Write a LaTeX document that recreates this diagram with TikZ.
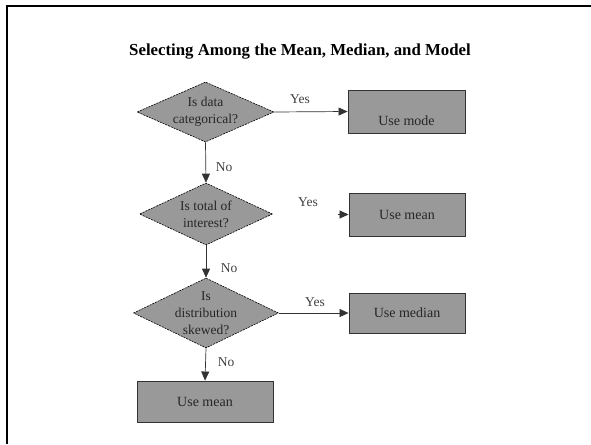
\documentclass[tikz,border=0pt]{standalone}
\usepackage{fontspec}
\setmainfont{Liberation Serif}
\usetikzlibrary{shapes.geometric,arrows.meta}
\definecolor{boxgray}{HTML}{999999}
\definecolor{edgegray}{HTML}{333333}
\begin{document}
\begin{tikzpicture}[x=1pt,y=-1pt,
  decision/.style={diamond, draw=black, line width=0.6pt, dash pattern=on 2pt off 1pt,
    fill=boxgray, inner sep=0pt},
  dtext/.style={align=center, inner sep=0pt, font=\fontsize{13.5}{17}\selectfont, text=black!85},
  outbox/.style={rectangle, draw=edgegray, line width=0.9pt, fill=boxgray, inner sep=0pt,
    align=center, font=\fontsize{14}{16}\selectfont, text=black!85},
  arr/.style={draw=black!80, line width=0.7pt, -{Triangle[length=9pt,width=8pt]}},
  lbl/.style={font=\fontsize{13.5}{15}\selectfont, text=black!75, inner sep=0pt}]
\useasboundingbox (0,0) rectangle (591,444);
\draw[line width=2pt, black] (7,444) -- (7,6.5) -- (591,6.5);
\node[font=\fontsize{16.8}{19}\selectfont\bfseries] (title) at (300,52) {Selecting Among the Mean, Median, and Model};

\node[decision, minimum width=137pt, minimum height=60pt] (d1) at (205.5,112) {};
\node[decision, minimum width=133pt, minimum height=62pt] (d2) at (206,214) {};
\node[decision, minimum width=145pt, minimum height=70pt] (d3) at (206,313) {};
\node[dtext] (t1) at (d1.center) {Is data\\categorical?};
\node[dtext] (t2) at (d2.center) {Is total of\\interest?};
\node[dtext] (t3) at (d3.center) {Is\\distribution\\skewed?};

\node[outbox, minimum width=117pt, minimum height=43pt] (b1) at (406.5,111.5) {\raisebox{-9pt}[\height][\depth]{Use mode}};
\node[outbox, minimum width=116pt, minimum height=43pt] (b2) at (407,214.5) {Use mean};
\node[outbox, minimum width=116pt, minimum height=40pt] (b3) at (407,313) {Use median};
\node[outbox, minimum width=136pt, minimum height=41pt] (b4) at (205,401.5) {Use mean};

\draw[arr] (d1.east) -- (b1.west);
\coordinate (y2) at (338,214.5);
\draw[arr] (y2) -- (b2.west);
\draw[arr] (d3.east) -- (b3.west);
\draw[arr] (d1.south) -- (d2.north);
\draw[arr] (d2.south) -- (d3.north);
\draw[arr] (d3.south) -- (b4.north);

\node[lbl] (yes1) at (300,99) {Yes};
\node[lbl] (yes2) at (308,202) {Yes};
\node[lbl] (yes3) at (315,302) {Yes};
\node[lbl] (no1) at (224,167) {No};
\node[lbl] (no2) at (229,268) {No};
\node[lbl] (no3) at (226,362) {No};
\end{tikzpicture}
\end{document}
